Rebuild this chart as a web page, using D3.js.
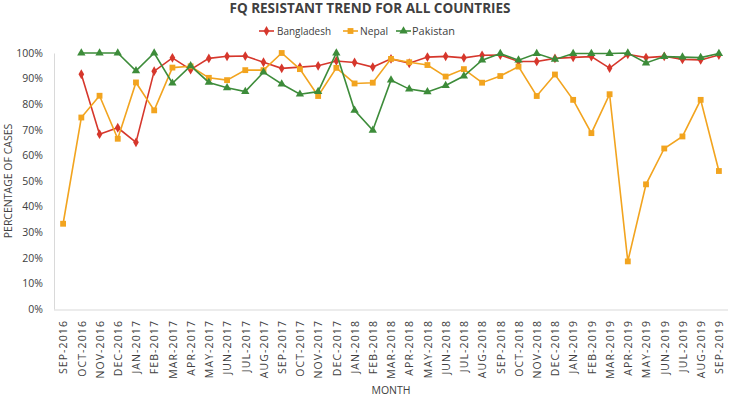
<!DOCTYPE html>
<html>
<head>
<meta charset="utf-8">
<script src="https://cdn.jsdelivr.net/npm/d3@7"></script>
<style>
  html, body { margin: 0; padding: 0; background: #fff; }
  svg { display: block; }
  text { font-family: "Open Sans", "Noto Sans", sans-serif; fill: #404040; }
</style>
</head>
<body>
<svg id="chart" width="729" height="396"></svg>
<script>
const months = ["SEP-2016","OCT-2016","NOV-2016","DEC-2016","JAN-2017","FEB-2017","MAR-2017","APR-2017","MAY-2017","JUN-2017","JUL-2017","AUG-2017","SEP-2017","OCT-2017","NOV-2017","DEC-2017","JAN-2018","FEB-2018","MAR-2018","APR-2018","MAY-2018","JUN-2018","JUL-2018","AUG-2018","SEP-2018","OCT-2018","NOV-2018","DEC-2018","JAN-2019","FEB-2019","MAR-2019","APR-2019","MAY-2019","JUN-2019","JUL-2019","AUG-2019","SEP-2019"];

const bangladesh = [null,91.7,68.3,70.8,65.1,92.9,98.1,93.5,97.9,98.7,98.8,96.4,94.0,94.5,95.0,96.9,96.3,94.5,97.7,96.0,98.4,98.7,98.1,99.1,99.2,96.7,96.7,97.9,98.3,98.6,94.1,99.5,98.2,98.7,97.5,97.3,99.2];
const nepal = [33.3,74.8,83.3,66.5,88.5,77.6,94.3,94.8,90.3,89.4,93.3,93.3,100,93.7,83.2,94.2,88.1,88.4,97.7,96.4,95.3,90.8,93.7,88.4,91.0,94.7,83.2,91.6,81.7,68.7,83.9,18.6,48.7,62.7,67.4,81.7,53.9];
const pakistan = [null,100,100,100,93.0,100,88.2,95.0,88.5,86.4,84.9,92.5,87.9,83.9,84.9,100,77.6,69.8,89.4,85.9,84.8,87.3,91.0,97.2,99.8,97.2,99.8,97.5,99.8,99.8,99.8,100,96.1,98.6,98.4,98.2,99.8];
const yTicks = [0,10,20,30,40,50,60,70,80,90,100];

const seriesNames = ["Bangladesh","Nepal","Pakistan"];
const seriesColors = ["#d6372c","#f2a41f","#3d8c3a"];
const seriesSymbols = [d3.symbolDiamond, d3.symbolSquare, d3.symbolTriangle];
const seriesSizes = [28, 34, 30];
const seriesData = [bangladesh, nepal, pakistan];

const svg = d3.select("#chart");
const plotLeft = 54, plotRight = 728, plotTop = 53, plotBottom = 309;

const x = d3.scalePoint().domain(months).range([plotLeft, plotRight]).padding(0.5);
const y = d3.scaleLinear().domain([0, 100]).range([plotBottom, plotTop]);

// Title
svg.append("text").attr("x", 370).attr("y", 13)
  .attr("text-anchor", "middle").attr("font-size", 13.5).attr("font-weight", "bold")
  .style("fill", "#404040")
  .text("FQ RESISTANT TREND FOR ALL COUNTRIES");

// Y axis
const yAxis = svg.append("g").attr("transform", `translate(${plotLeft},0)`)
  .call(d3.axisLeft(y).tickValues(yTicks).tickFormat(d => d + "%").tickSize(0).tickPadding(11));
yAxis.select(".domain").attr("stroke", "#d9d9d9");
yAxis.selectAll("text").attr("font-size", 10.5).style("fill", "#404040").attr("font-family", null);

// X axis
const xAxis = svg.append("g").attr("transform", `translate(0,${plotBottom + 1})`)
  .call(d3.axisBottom(x).tickSize(0).tickPadding(0));
xAxis.select(".domain").attr("stroke", "#d9d9d9").attr("d", `M${plotLeft},0H${plotRight}`);
xAxis.selectAll("text")
  .attr("font-size", 10.5).attr("font-family", null).style("fill", "#404040")
  .attr("letter-spacing", "1.1px")
  .attr("transform", "rotate(-90)")
  .attr("text-anchor", "end")
  .attr("dx", -10).attr("dy", "0.36em").attr("y", 0).attr("x", 0);

// Axis titles
svg.append("text").attr("x", 391).attr("y", 394)
  .attr("text-anchor", "middle").attr("font-size", 10.5).text("MONTH");
svg.append("text").attr("transform", `translate(12,181) rotate(-90)`)
  .attr("text-anchor", "middle").attr("font-size", 10.5).text("PERCENTAGE OF CASES");

// Lines and markers
seriesData.forEach((vals, i) => {
  const pts = months.map((m, j) => ({ m, v: vals[j] })).filter(d => d.v !== null);
  const line = d3.line().x(d => x(d.m)).y(d => y(d.v));
  svg.append("path").datum(pts)
    .attr("fill", "none").attr("stroke", seriesColors[i]).attr("stroke-width", 1.6)
    .attr("d", line);
  svg.append("g").selectAll("path").data(pts).join("path")
    .attr("transform", d => `translate(${x(d.m)},${y(d.v)})`)
    .attr("d", d3.symbol().type(seriesSymbols[i]).size(seriesSizes[i]))
    .attr("fill", seriesColors[i]);
});

// Legend
const legendItems = [
  { x: 259, tx: 277, w: 54 },
  { x: 343, tx: 360, w: 28 },
  { x: 396, tx: 412, w: 43 }
];
seriesNames.forEach((name, i) => {
  const g = svg.append("g");
  const lx = legendItems[i].x, ly = 31;
  g.append("line").attr("x1", lx).attr("x2", lx + 15).attr("y1", ly).attr("y2", ly)
    .attr("stroke", seriesColors[i]).attr("stroke-width", 1.6);
  g.append("path").attr("transform", `translate(${lx + 7.5},${ly})`)
    .attr("d", d3.symbol().type(seriesSymbols[i]).size(seriesSizes[i]))
    .attr("fill", seriesColors[i]);
  g.append("text").attr("x", legendItems[i].tx).attr("y", ly + 3.8)
    .attr("font-size", 10.5)
    .attr("textLength", legendItems[i].w).attr("lengthAdjust", "spacingAndGlyphs")
    .text(name);
});
</script>
</body>
</html>
